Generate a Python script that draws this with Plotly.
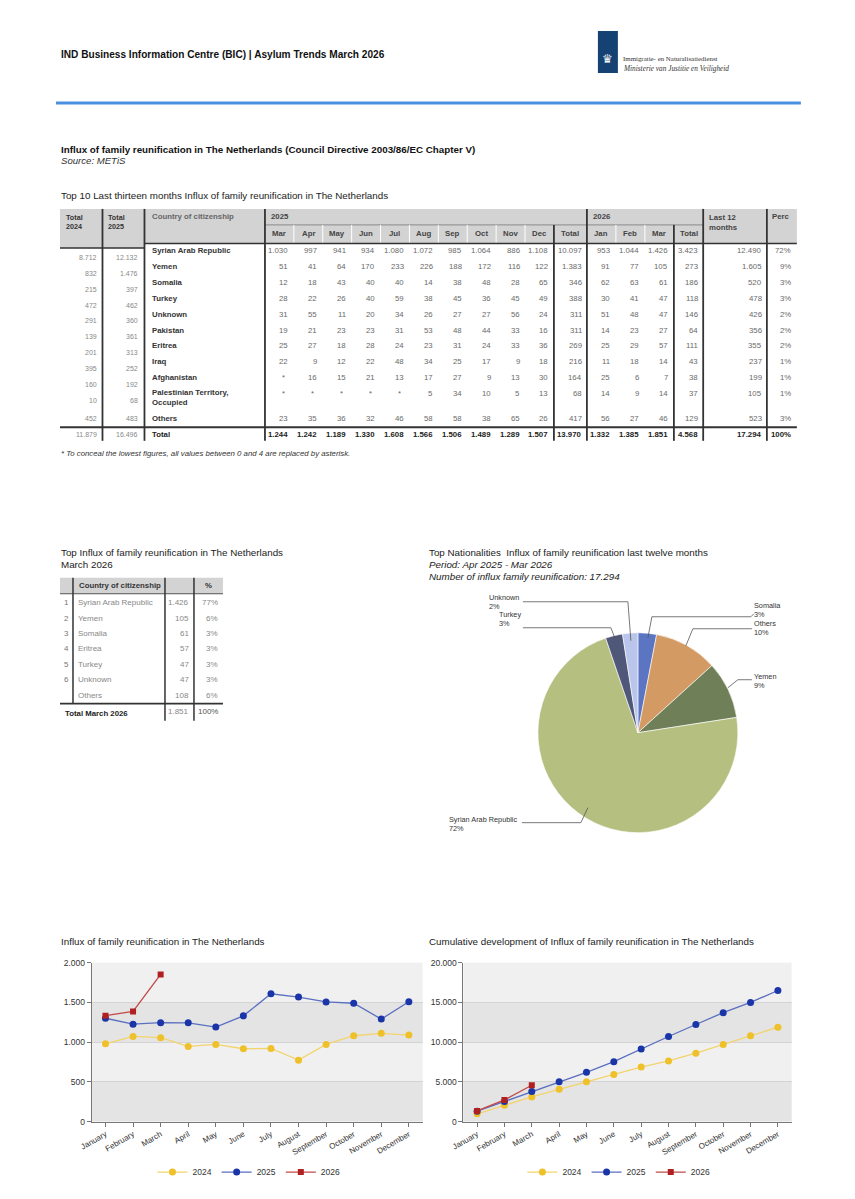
import plotly.graph_objects as go

# ---------------- DATA ----------------
month_names = ["January", "February", "March", "April", "May", "June", "July",
               "August", "September", "October", "November", "December"]
influx_2024 = [979, 1071, 1055, 945, 971, 916, 920, 773, 971, 1080, 1110, 1088]
influx_2025 = [1300, 1226, 1244, 1242, 1189, 1330, 1608, 1566, 1506, 1489, 1289, 1507]
influx_2026 = [1332, 1385, 1851]
cum_2024 = [979, 2050, 3105, 4050, 5021, 5937, 6857, 7630, 8601, 9681, 10791, 11879]
cum_2025 = [1300, 2526, 3770, 5012, 6201, 7531, 9139, 10705, 12211, 13700, 14989, 16496]
cum_2026 = [1332, 2717, 4568]

hdr_2025 = ["Mar", "Apr", "May", "Jun", "Jul", "Aug", "Sep", "Oct", "Nov", "Dec"]
hdr_2026 = ["Jan", "Feb", "Mar"]
countries = ["Syrian Arab Republic", "Yemen", "Somalia", "Turkey", "Unknown", "Pakistan",
             "Eritrea", "Iraq", "Afghanistan", "Palestinian Territory, Occupied", "Others"]
total_2024 = [8712, 832, 215, 472, 291, 139, 201, 395, 160, 10, 452]
total_2025 = [12132, 1476, 397, 462, 360, 361, 313, 252, 192, 68, 483]
values_2025 = [
    [1030, 997, 941, 934, 1080, 1072, 985, 1064, 886, 1108],
    [51, 41, 64, 170, 233, 226, 188, 172, 116, 122],
    [12, 18, 43, 40, 40, 14, 38, 48, 28, 65],
    [28, 22, 26, 40, 59, 38, 45, 36, 45, 49],
    [31, 55, 11, 20, 34, 26, 27, 27, 56, 24],
    [19, 21, 23, 23, 31, 53, 48, 44, 33, 16],
    [25, 27, 18, 28, 24, 23, 31, 24, 33, 36],
    [22, 9, 12, 22, 48, 34, 25, 17, 9, 18],
    [None, 16, 15, 21, 13, 17, 27, 9, 13, 30],
    [None, None, None, None, None, 5, 34, 10, 5, 13],
    [23, 35, 36, 32, 46, 58, 58, 38, 65, 26],
]
sum_2025 = [10097, 1383, 346, 388, 311, 311, 269, 216, 164, 68, 417]
values_2026 = [
    [953, 1044, 1426], [91, 77, 105], [62, 63, 61], [30, 41, 47], [51, 48, 47],
    [14, 23, 27], [25, 29, 57], [11, 18, 14], [25, 6, 7], [14, 9, 14], [56, 27, 46],
]
sum_2026 = [3423, 273, 186, 118, 146, 64, 111, 43, 38, 37, 129]
last_12 = [12490, 1605, 520, 478, 426, 356, 355, 237, 199, 105, 523]
perc = [72, 9, 3, 3, 2, 2, 2, 1, 1, 1, 3]
totals_row_2025 = [1244, 1242, 1189, 1330, 1608, 1566, 1506, 1489, 1289, 1507]
totals_row_2026 = [1332, 1385, 1851]
grand_2024, grand_2025, grand_sum_2025, grand_sum_2026, grand_12, grand_perc = 11879, 16496, 13970, 4568, 17294, 100

march_countries = ["Syrian Arab Republic", "Yemen", "Somalia", "Eritrea", "Turkey", "Unknown", "Others"]
march_values = [1426, 105, 61, 57, 47, 47, 108]
march_pct = [77, 6, 3, 3, 3, 3, 6]
march_total, march_total_pct = 1851, 100

pie_labels = ["Somalia", "Others", "Yemen", "Syrian Arab Republic", "Turkey", "Unknown"]
pie_values = [520, 1775, 1605, 12490, 478, 426]

# ---------------- HELPERS ----------------
# figure size and page-offset compensation (measured from earlier renders)
W, H = 847, 1191
OX, SX = 19.0, 0.986
OY, SY = 12.0, 0.992
FONT = "Liberation Sans, Arial, sans-serif"
annotations, shapes = [], []


def px(x):
    return ((x - OX) / SX) / W


def py(y):
    return 1 - ((y - OY) / SY) / H


def fmt(v):
    return "*" if v is None else f"{v:,}".replace(",", ".")


def text(x, y, s, size=7.5, color="#555", xa="left", ya="middle", align="left", family=FONT):
    annotations.append(dict(x=px(x), y=py(y), xref="paper", yref="paper", text=s,
                            showarrow=False, xanchor=xa, yanchor=ya, align=align,
                            borderpad=0, font=dict(family=family, size=size, color=color)))


def line(x0, y0, x1, y1, color="#333", width=1.0):
    shapes.append(dict(type="line", xref="paper", yref="paper", x0=px(x0), y0=py(y0),
                       x1=px(x1), y1=py(y1), line=dict(color=color, width=width)))


def rect(x0, y0, x1, y1, fill):
    shapes.append(dict(type="rect", xref="paper", yref="paper", x0=px(x0), y0=py(y0),
                       x1=px(x1), y1=py(y1), fillcolor=fill, line=dict(width=0), layer="below"))


def path(points, color="#555", width=0.8):
    d = "M " + " L ".join(f"{px(a)},{py(b)}" for a, b in points)
    shapes.append(dict(type="path", xref="paper", yref="paper", path=d,
                       line=dict(color=color, width=width)))


# ---------------- PAGE HEADER ----------------
text(59, 54, "<b>IND Business Information Centre (BIC) | Asylum Trends March 2026</b>", 10.1, "#111")
rect(597, 30, 617, 72, "#154273")
text(607, 58, "♛", 12, "#ffffff", xa="center")
text(621, 58, "Immigratie- en Naturalisatiedienst", 6.9, "#333", family="Liberation Serif, serif")
text(621, 68, "<i>Ministerie van Justitie en Veiligheid</i>", 7.3, "#333", family="Liberation Serif, serif")
line(55, 102, 800, 102, "#4a90e2", 3)

text(59, 149, "<b>Influx of family reunification in The Netherlands (Council Directive 2003/86/EC Chapter V)</b>", 9.8, "#111")
text(59, 160, "<i>Source: METiS</i>", 9.6, "#333")
text(59, 195, "Top 10 Last thirteen months Influx of family reunification in The Netherlands", 9.8, "#222")

# ---------------- BIG TABLE ----------------
GREY = "#d3d3d3"
FS = 7.8
month_w = 28.9
m_edges = [264 + month_w * i for i in range(11)]          # 264 .. 553
tot25_r = 586
j_edges = [586 + 29 * i for i in range(4)]                # 586 .. 673
tot26_r, last_r, perc_r = 702.3, 766, 796
TOP, BOT = 208, 440

rect(59, TOP, 143.5, 247, GREY)
rect(143.5, TOP, 796, 242, GREY)
text(64, 211, "<b>Total<br>2024</b>", 7.2, "#333", ya="top")
text(106, 211, "<b>Total<br>2025</b>", 7.2, "#333", ya="top")
text(150, 216, "<b>Country of citizenship</b>", FS, "#666")
text(269, 216, "<b>2025</b>", FS, "#444")
text(591, 216, "<b>2026</b>", FS, "#444")
text(707, 211, "<b>Last 12<br>months</b>", FS, "#444", ya="top")
text(770, 216, "<b>Perc</b>", FS, "#444")
for i, m in enumerate(hdr_2025):
    text((m_edges[i] + m_edges[i + 1]) / 2, 233, f"<b>{m}</b>", FS, "#444", xa="center")
text((m_edges[-1] + tot25_r) / 2, 233, "<b>Total</b>", FS, "#444", xa="center")
for i, m in enumerate(hdr_2026):
    text((j_edges[i] + j_edges[i + 1]) / 2, 233, f"<b>{m}</b>", FS, "#444", xa="center")
text((j_edges[-1] + tot26_r) / 2, 233, "<b>Total</b>", FS, "#444", xa="center")

line(264, 224, 702.3, 224, "#8a8a8a", 1)
for xe in m_edges[1:-1] + j_edges[1:-1]:
    line(xe, 224, xe, 242, "#ffffff", 1)
line(143.5, 242.5, 796, 242.5, "#333", 1.5)
line(59, 247, 143.5, 247, "#333", 1.5)
for xe, y0 in [(101.5, TOP), (143.5, TOP), (264, TOP), (553, 224), (586, TOP),
               (673, 224), (702.3, TOP), (766, TOP)]:
    line(xe, y0, xe, BOT, "#333", 1.8)
line(59, 426.5, 796, 426.5, "#333", 2)

row_y = [250 + 15.85 * i for i in range(10)] + [417.7]
NUM = "#6a6a6a"
for i, c in enumerate(countries):
    y = row_y[i]
    if "," in c:
        a, b = c.split(", ")
        text(150, y + 4.5, f"<b>{a},<br>{b}</b>", FS, "#333")
    else:
        text(150, y, f"<b>{c}</b>", FS, "#333")
    ly = y + 6.7 if i < 10 else y
    text(96.7, ly, fmt(total_2024[i]), 7.0, "#888", xa="right")
    text(138.3, ly, fmt(total_2025[i]), 7.0, "#888", xa="right")
    for j, v in enumerate(values_2025[i]):
        text(m_edges[j + 1] - 4.5 - (3 if v is None else 0), y, fmt(v), FS, NUM, xa="right")
    text(tot25_r - 4.3, y, fmt(sum_2025[i]), FS, NUM, xa="right")
    for j, v in enumerate(values_2026[i]):
        text(j_edges[j + 1] - 4.5, y, fmt(v), FS, NUM, xa="right")
    text(tot26_r - 4.5, y, fmt(sum_2026[i]), FS, NUM, xa="right")
    text(last_r - 4.3, y, fmt(last_12[i]), FS, NUM, xa="right")
    text(perc_r - 5.3, y, f"{perc[i]}%", FS, NUM, xa="right")

ty = 433.3
text(96.7, ty, fmt(grand_2024), 7.0, "#888", xa="right")
text(138.3, ty, fmt(grand_2025), 7.0, "#888", xa="right")
text(150, ty, "<b>Total</b>", FS, "#222")
for j, v in enumerate(totals_row_2025):
    text(m_edges[j + 1] - 4.5, ty, f"<b>{fmt(v)}</b>", FS, "#222", xa="right")
text(tot25_r - 4.3, ty, f"<b>{fmt(grand_sum_2025)}</b>", FS, "#222", xa="right")
for j, v in enumerate(totals_row_2026):
    text(j_edges[j + 1] - 4.5, ty, f"<b>{fmt(v)}</b>", FS, "#222", xa="right")
text(tot26_r - 4.5, ty, f"<b>{fmt(grand_sum_2026)}</b>", FS, "#222", xa="right")
text(last_r - 4.3, ty, f"<b>{fmt(grand_12)}</b>", FS, "#222", xa="right")
text(perc_r - 5.3, ty, f"<b>{grand_perc}%</b>", FS, "#222", xa="right")

text(59, 453, "<i>* To conceal the lowest figures, all values between 0 and 4 are replaced by asterisk.</i>", 7.8, "#333")

# ---------------- SMALL TABLE ----------------
text(59, 552, "Top Influx of family reunification in The Netherlands", 9.8, "#222")
text(59, 564, "March 2026", 9.8, "#222")
rect(59, 577, 222, 593, GREY)
text(77, 585, "<b>Country of citizenship</b>", 7.8, "#333")
text(207.5, 585, "<b>%</b>", 7.8, "#333", xa="center")
line(59, 593, 222, 593, "#555", 1.2)
line(72, 577, 72, 703, "#333", 1.5)
line(164, 577, 164, 720, "#333", 1.5)
line(193, 577, 193, 720, "#333", 1.5)
line(59, 703, 222, 703, "#333", 1.8)
for i, c in enumerate(march_countries):
    y = 602 + 15.4 * i
    if c != "Others":
        text(65.5, y, str(i + 1), 8, "#777", xa="center")
    text(76, y, c, 8, "#888")
    text(189, y, fmt(march_values[i]), 8, "#888", xa="right")
    text(218, y, f"{march_pct[i]}%", 8, "#888", xa="right")
text(63, 713, "<b>Total March 2026</b>", 7.8, "#222")
text(189, 711, fmt(march_total), 8, "#888", xa="right")
text(218, 711, f"{march_total_pct}%", 8, "#555", xa="right")

# ---------------- PIE ----------------
text(427, 552, "Top Nationalities  Influx of family reunification last twelve months", 9.8, "#222")
text(427, 564, "<i>Period: Apr 2025 - Mar 2026</i>", 9.8, "#222")
text(427, 576, f"<i>Number of influx family reunification: {fmt(sum(pie_values))}</i>", 9.8, "#222")

pie_colors = ["#5b75c2", "#d39a63", "#6f7f57", "#b5bf80", "#50587a", "#b9c5ea"]
PCX, PCY, PR = 637, 732, 100
pie = go.Pie(labels=pie_labels, values=pie_values, sort=False, direction="clockwise",
             rotation=0, textinfo="none", showlegend=False, hoverinfo="label+percent",
             marker=dict(colors=pie_colors, line=dict(color="#ffffff", width=0.6)),
             domain=dict(x=[px(PCX - PR), px(PCX + PR)], y=[py(PCY + PR), py(PCY - PR)]))

pie_total = sum(pie_values)
label_pos = {
    "Somalia": (752, 609), "Others": (752, 627), "Yemen": (752, 680),
    "Syrian Arab Republic": (447, 823), "Turkey": (497, 618), "Unknown": (487, 601),
}
for lab, v in zip(pie_labels, pie_values):
    x, y = label_pos[lab]
    text(x, y, f"{lab}<br>{round(v / pie_total * 100)}%", 7.3, "#333")
path([(522, 601), (627, 601), (630, 640)])
path([(522, 627), (610, 627), (615, 640)])
path([(647, 637), (651, 616), (750, 616), (753, 613)])
path([(685, 645), (692, 628), (751, 628)])
path([(727, 687), (737, 679), (751, 679)])
path([(587, 807), (580, 822), (521, 822)])

# ---------------- LINE CHARTS ----------------
text(59, 941, "Influx of family reunification in The Netherlands", 9.8, "#222")
text(427, 941, "Cumulative development of Influx of family reunification in The Netherlands", 9.8, "#222")

styles = {
    "2024": dict(line="#f3d46c", marker="#eec12a", symbol="circle", size=7),
    "2025": dict(line="#5a6fc0", marker="#1a35a8", symbol="circle", size=7),
    "2026": dict(line="#c24a48", marker="#b02020", symbol="square", size=6),
}
traces = []
for name, ys in [("2024", influx_2024), ("2025", influx_2025), ("2026", influx_2026)]:
    s = styles[name]
    traces.append(go.Scatter(x=month_names[:len(ys)], y=ys, name=name, mode="lines+markers",
                             line=dict(color=s["line"], width=1.3),
                             marker=dict(color=s["marker"], size=s["size"], symbol=s["symbol"]),
                             xaxis="x", yaxis="y", legend="legend"))
for name, ys in [("2024", cum_2024), ("2025", cum_2025), ("2026", cum_2026)]:
    s = styles[name]
    traces.append(go.Scatter(x=month_names[:len(ys)], y=ys, name=name, mode="lines+markers",
                             line=dict(color=s["line"], width=1.3),
                             marker=dict(color=s["marker"], size=s["size"], symbol=s["symbol"]),
                             xaxis="x2", yaxis="y2", legend="legend2"))

fig = go.Figure(data=[pie] + traces)

# alternating bands
for yref, step in [("y", 500), ("y2", 5000)]:
    xr = "x domain" if yref == "y" else "x2 domain"
    for k in (0, 2):
        shapes.append(dict(type="rect", xref=xr, yref=yref, x0=0, x1=1, y0=k * step,
                           y1=(k + 1) * step, fillcolor="#e4e4e4", line=dict(width=0), layer="below"))

axis_x = dict(type="category", categoryorder="array", categoryarray=month_names, range=[-0.5, 11.5],
              tickangle=-30, ticks="outside", ticklen=4, tickcolor="#777", showline=True,
              linecolor="#777", showgrid=False, tickfont=dict(family=FONT, size=8, color="#333"))
axis_y = dict(ticks="outside", ticklen=4, tickcolor="#777", showline=True, linecolor="#777",
              showgrid=True, gridcolor="#d4d4d4", zeroline=False, tickformat=",d",
              tickfont=dict(family=FONT, size=8.5, color="#333"))

fig.update_layout(
    width=W, height=H, margin=dict(l=0, r=0, t=0, b=0),
    paper_bgcolor="white", plot_bgcolor="#f0f0f0", separators=",.",
    font=dict(family=FONT, color="#333"),
    xaxis=dict(axis_x, domain=[px(90.7), px(421.7)], anchor="y"),
    yaxis=dict(axis_y, domain=[py(1121), py(962)], range=[0, 2000], tickvals=[0, 500, 1000, 1500, 2000], anchor="x"),
    xaxis2=dict(axis_x, domain=[px(462.5), px(790.7)], anchor="y2"),
    yaxis2=dict(axis_y, domain=[py(1121), py(962)], range=[0, 20000],
                tickvals=[0, 5000, 10000, 15000, 20000], anchor="x2"),
    legend=dict(orientation="h", x=px(248), y=py(1157), xanchor="center", yanchor="top",
                font=dict(family=FONT, size=8.5, color="#333"), bgcolor="rgba(0,0,0,0)", itemwidth=30),
    legend2=dict(orientation="h", x=px(618), y=py(1157), xanchor="center", yanchor="top",
                 font=dict(family=FONT, size=8.5, color="#333"), bgcolor="rgba(0,0,0,0)", itemwidth=30),
    annotations=annotations, shapes=shapes,
)

fig.write_html("out.html")
